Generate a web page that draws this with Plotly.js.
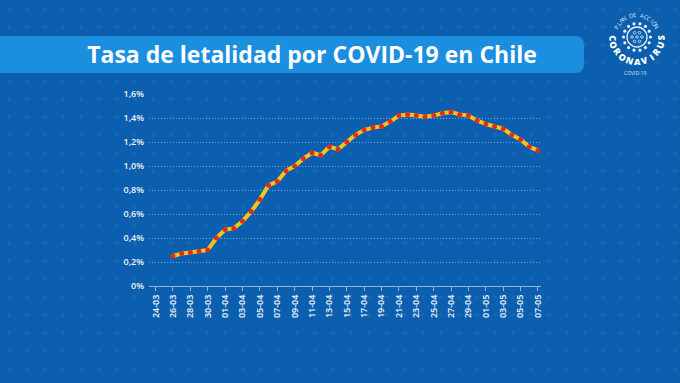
<!DOCTYPE html>
<html><head><meta charset="utf-8">
<script src="https://cdn.plot.ly/plotly-3.0.1.min.js"></script>
<style>
html,body{margin:0;padding:0;}
body{width:680px;height:383px;overflow:hidden;background-color:#0b5fae;
background-image:radial-gradient(circle, rgba(255,255,255,0.06) 1.4px, transparent 2px);background-size:18px 18px;}
#chart{width:680px;height:383px;}
</style></head><body><div id="chart"></div>
<script>
// Category axis (all days shown on axis)
const allDates = ['24-03','25-03','26-03','27-03','28-03','29-03','30-03','31-03',
'01-04','02-04','03-04','04-04','05-04','06-04','07-04','08-04','09-04','10-04',
'11-04','12-04','13-04','14-04','15-04','16-04','17-04','18-04','19-04','20-04',
'21-04','22-04','23-04','24-04','25-04','26-04','27-04','28-04','29-04','30-04',
'01-05','02-05','03-05','04-05','05-05','06-05','07-05'];
// Series dates and case fatality rate (%)
const dates = ['26-03','27-03','28-03','29-03','30-03','31-03',
'01-04','02-04','03-04','04-04','05-04','06-04','07-04','08-04','09-04','10-04',
'11-04','12-04','13-04','14-04','15-04','16-04','17-04','18-04','19-04','20-04',
'21-04','22-04','23-04','24-04','25-04','26-04','27-04','28-04','29-04','30-04',
'01-05','02-05','03-05','04-05','05-05','06-05','07-05'];
const rates = [0.25,0.27,0.28,0.29,0.30,0.40,
0.47,0.48,0.54,0.62,0.72,0.84,0.87,0.96,1.00,1.06,
1.11,1.09,1.16,1.14,1.20,1.26,1.30,1.32,1.33,1.37,
1.42,1.43,1.42,1.41,1.42,1.44,1.45,1.43,1.42,1.38,
1.35,1.33,1.31,1.26,1.22,1.16,1.13];
// Tick labels
const xTickLabels = ['24-03','26-03','28-03','30-03','01-04','03-04','05-04','07-04',
'09-04','11-04','13-04','15-04','17-04','19-04','21-04','23-04','25-04','27-04',
'29-04','01-05','03-05','05-05','07-05'];
const yTickVals = [0,0.2,0.4,0.6,0.8,1.0,1.2,1.4,1.6];
const yTickText = ['0%','0,2%','0,4%','0,6%','0,8%','1,0%','1,2%','1,4%','1,6%'];
const titleText = 'Tasa de letalidad por COVID-19 en Chile';

// pixel -> paper helpers (plot area: x 149..541, y 94..286)
const L=149, R=541, T=94, B=286;
const px = x => (x-L)/(R-L);
const py = y => (B-y)/(B-T);

const shapes = [];
// title bar with rounded right corners
(function(){
  const x0=px(-2), x1=px(584), xr=px(575), y0=py(36), y1=py(73), yr0=py(45), yr1=py(64);
  shapes.push({type:'path', xref:'paper', yref:'paper', layer:'below',
    path:`M ${x0},${y1} L ${x0},${y0} L ${xr},${y0} Q ${x1},${y0} ${x1},${yr0} L ${x1},${yr1} Q ${x1},${y1} ${xr},${y1} Z`,
    fillcolor:'#1c8ee0', line:{width:0}});
})();
function circ(cx,cy,r,o){
  return Object.assign({type:'circle', xref:'paper', yref:'paper', layer:'above',
    x0:px(cx-r), x1:px(cx+r), y0:py(cy+r), y1:py(cy-r)}, o);
}
// logo virus
const LX=637, LY=37;
shapes.push(circ(LX,LY,10,{line:{color:'rgba(255,255,255,0.9)',width:1.3}}));
for(let i=0;i<14;i++){
  const a=i*2*Math.PI/14;
  shapes.push(circ(LX+13.5*Math.cos(a),LY+13.5*Math.sin(a),1.6,{fillcolor:'rgba(255,255,255,0.9)',line:{width:0}}));
}
const inner=[[0,0],[5,0],[-5,0],[2.5,4.3],[-2.5,4.3],[2.5,-4.3],[-2.5,-4.3]];
inner.forEach(p=>shapes.push(circ(LX+p[0],LY+p[1],1.3,{line:{color:'rgba(255,255,255,0.85)',width:0.8}})));

const annotations=[];
function arcText(str,r,a0,a1,angOff,font){
  const n=str.length;
  for(let i=0;i<n;i++){
    const th=a0+(a1-a0)*i/(n-1);
    const rad=th*Math.PI/180;
    annotations.push({xref:'paper',yref:'paper',x:px(LX+r*Math.cos(rad)),y:py(LY+r*Math.sin(rad)),
      text:str[i],showarrow:false,textangle:th-angOff,xanchor:'center',yanchor:'middle',font:font});
  }
}
arcText('CORONAVIRUS',24.5,178,2,90,{family:'Open Sans',size:9,color:'#ffffff',weight:800});
arcText('PLAN DE ACCIÓN',22,206,332,270,{family:'Open Sans',size:6,color:'rgba(255,255,255,0.85)'});
annotations.push({xref:'paper',yref:'paper',x:px(635),y:py(73),text:'COVID-19',showarrow:false,
  xanchor:'center',yanchor:'middle',font:{family:'Open Sans',size:5,color:'rgba(255,255,255,0.85)'}});

const trace = {
  x: dates, y: rates, type:'scatter', mode:'lines+markers',
  line:{color:'#f5c518', width:4},
  marker:{color:'#e02a24', size:5, line:{width:0}},
  hoverinfo:'x+y'
};

const tickFont = {family:'Open Sans', size:9, color:'#eef4fb', weight:600};
const layout = {
  width:680, height:383,
  margin:{l:L, r:680-R, t:T, b:383-B, pad:0},
  paper_bgcolor:'rgba(0,0,0,0)', plot_bgcolor:'rgba(0,0,0,0)',
  showlegend:false,
  title:{text:titleText, xref:'container', yref:'container', x:312/680, xanchor:'center',
    y:1-55/383, yanchor:'middle', font:{family:'Open Sans', size:23, color:'#ffffff', weight:700}},
  xaxis:{type:'category', categoryorder:'array', categoryarray:allDates,
    range:[-0.76,44.35], tickmode:'array', tickvals:xTickLabels, ticktext:xTickLabels,
    tickangle:-90, tickfont:tickFont, showgrid:false, zeroline:false,
    showline:true, linecolor:'rgba(170,200,235,0.85)', linewidth:1,
    ticks:'outside', ticklen:4, tickcolor:'rgba(170,200,235,0.85)', tickwidth:1, fixedrange:true},
  yaxis:{range:[0,1.6], tickmode:'array', tickvals:yTickVals, ticktext:yTickText,
    tickfont:tickFont, showgrid:true, gridcolor:'rgba(190,215,245,0.6)', griddash:'1px,2px', gridwidth:1,
    zeroline:false, showline:false, ticks:'', ticklabelstandoff:4, fixedrange:true},
  shapes:shapes, annotations:annotations
};
Plotly.newPlot('chart',[trace],layout,{displayModeBar:false, staticPlot:true});
</script></body></html>
